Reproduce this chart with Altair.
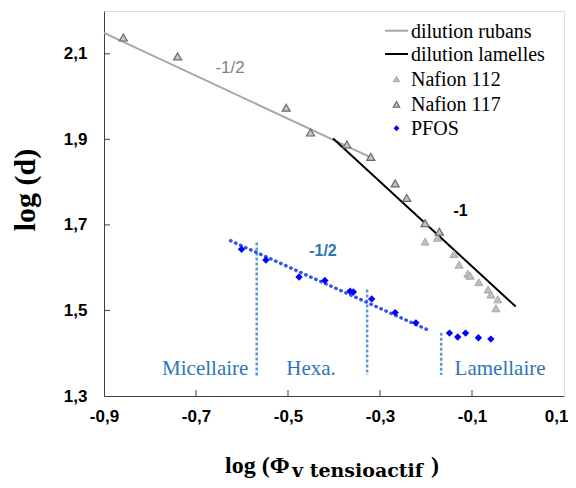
import altair as alt
import pandas as pd

# ---------------- data ----------------
nafion117_x = [-0.858, -0.740, -0.504, -0.451, -0.372, -0.320, -0.267, -0.242, -0.202, -0.171]
nafion117_y = [2.138, 2.094, 1.974, 1.916, 1.888, 1.859, 1.797, 1.763, 1.704, 1.684]

nafion112_x = [-0.202, -0.175, -0.139, -0.128, -0.109, -0.104, -0.085, -0.065, -0.059, -0.044, -0.048]
nafion112_y = [1.661, 1.670, 1.632, 1.607, 1.586, 1.581, 1.566, 1.549, 1.537, 1.526, 1.505]

pfos_x = [-0.601, -0.548, -0.476, -0.420, -0.365, -0.358, -0.318, -0.267, -0.222,
          -0.149, -0.131, -0.114, -0.086, -0.059]
pfos_y = [1.643, 1.618, 1.578, 1.570, 1.545, 1.543, 1.527, 1.495, 1.471,
          1.447, 1.438, 1.447, 1.436, 1.433]

rubans_x = [-0.90, -0.32]
rubans_y = [2.149, 1.858]
lamelles_x = [-0.402, -0.005]
lamelles_y = [1.902, 1.509]
pfos_fit_x = [-0.625, -0.191]
pfos_fit_y = [1.663, 1.452]

bound_x = [-0.568, -0.328, -0.167]
bound_top = [1.659, 1.549, 1.448]
bound_bottom = [1.343, 1.349, 1.349]

region_labels = ["Micellaire", "Hexa.", "Lamellaire"]
region_x = [-0.680, -0.450, -0.039]
region_y = [1.363, 1.363, 1.363]

x_ticks = [-0.9, -0.7, -0.5, -0.3, -0.1, 0.1]
y_ticks = [1.3, 1.5, 1.7, 1.9, 2.1]

legend_labels = ["dilution rubans", "dilution lamelles", "Nafion 112", "Nafion 117", "PFOS"]

# ---------------- layout ----------------
W, H = 460, 385
xs = alt.Scale(domain=[-0.9, 0.1], nice=False, zero=False)
ys = alt.Scale(domain=[1.3, 2.2], nice=False, zero=False)
label_expr = "replace(replace(format(datum.value, '.1f'), '.', ','), '\u2212', '-')"

SERIF = "Liberation Serif"
SANS = "Liberation Sans"
BLUE_TXT = "#2e75b6"

dummy = pd.DataFrame({"d": [0]})

df_117 = pd.DataFrame({"x": nafion117_x, "y": nafion117_y})
df_112 = pd.DataFrame({"x": nafion112_x, "y": nafion112_y})
df_pfos = pd.DataFrame({"x": pfos_x, "y": pfos_y})
df_rub = pd.DataFrame({"x": rubans_x, "y": rubans_y})
df_lam = pd.DataFrame({"x": lamelles_x, "y": lamelles_y})
df_fit = pd.DataFrame({"x": pfos_fit_x, "y": pfos_fit_y})
df_bound = pd.DataFrame({"x": bound_x, "y": bound_top, "y2": bound_bottom})
df_reg = pd.DataFrame({"label": region_labels, "x": region_x, "y": region_y})
df_xt = pd.DataFrame({"v": x_ticks[1:-1]})
df_yt = pd.DataFrame({"v": y_ticks[1:]})

X = lambda: alt.X("x:Q", scale=xs, axis=alt.Axis(
    values=x_ticks, labelExpr=label_expr, title=None,
    grid=False, ticks=False, tickSize=0, labelPadding=12,
    labelFont=SANS, labelFontWeight="bold", labelFontSize=17,
    labelColor="#000000", domainColor="#404040", labelFlush=False,
    labelAlign={"condition": {"test": "datum.value > 0.05", "value": "right"}, "value": "center"},
    labelOffset={"condition": {"test": "datum.value > 0.05", "value": 4}, "value": 0}))
Y = lambda: alt.Y("y:Q", scale=ys, axis=alt.Axis(
    values=y_ticks, labelExpr=label_expr, title=None,
    grid=False, ticks=False, tickSize=0, labelPadding=17,
    labelFont=SANS, labelFontWeight="bold", labelFontSize=17,
    labelColor="#000000", domainColor="#404040", labelFlush=False))

rub_line = alt.Chart(df_rub).mark_line(color="#a6a6a6", strokeWidth=2).encode(x=X(), y=Y())
lam_line = alt.Chart(df_lam).mark_line(color="#000000", strokeWidth=2).encode(x=X(), y=Y())
fit_line = alt.Chart(df_fit).mark_line(color="#3355ee", strokeWidth=3.4, strokeDash=[0.5, 5],
                                       strokeCap="round").encode(x=X(), y=Y())
bounds = alt.Chart(df_bound).mark_rule(color="#5b9bd5", strokeWidth=2.5, strokeDash=[3, 2]).encode(
    x=alt.X("x:Q", scale=xs), y=alt.Y("y:Q", scale=ys), y2="y2:Q")

pts_112 = alt.Chart(df_112).mark_point(shape="triangle-up", filled=True, size=65, fill="#bfbfbf",
                                       stroke="#a9a9a9", strokeWidth=1, opacity=1).encode(x=X(), y=Y())
pts_117 = alt.Chart(df_117).mark_point(shape="triangle-up", filled=True, size=65, fill="#c4c4c4",
                                       stroke="#6a6a6a", strokeWidth=1.2, opacity=1).encode(x=X(), y=Y())
pts_pfos = alt.Chart(df_pfos).mark_point(shape="diamond", filled=True, size=55, color="#0000ff",
                                         opacity=1).encode(x=X(), y=Y())

yticks = alt.Chart(df_yt).mark_rule(color="#404040", strokeWidth=1).encode(
    y=alt.Y("v:Q", scale=ys), x=alt.value(0), x2=alt.value(6))
xticks = alt.Chart(df_xt).mark_rule(color="#404040", strokeWidth=1).encode(
    x=alt.X("v:Q", scale=xs), y=alt.value(H), y2=alt.value(H - 6))

regions = alt.Chart(df_reg).mark_text(font=SERIF, fontSize=21, color=BLUE_TXT).encode(
    x=alt.X("x:Q", scale=xs), y=alt.Y("y:Q", scale=ys), text="label:N")

def txt(text, x, y, **kw):
    return alt.Chart(dummy).mark_text(text=text, **kw).encode(x=alt.value(x), y=alt.value(y))

slope_gray = alt.Chart(pd.DataFrame({"x": [-0.626], "y": [2.066], "t": ["-1/2"]})).mark_text(
    font=SANS, fontSize=17, color="#7f7f7f").encode(x=alt.X("x:Q", scale=xs), y=alt.Y("y:Q", scale=ys), text="t:N")
slope_blue = alt.Chart(pd.DataFrame({"x": [-0.424], "y": [1.638], "t": ["-1/2"]})).mark_text(
    font=SANS, fontSize=16, fontWeight="bold", color=BLUE_TXT).encode(x=alt.X("x:Q", scale=xs), y=alt.Y("y:Q", scale=ys), text="t:N")
slope_black = alt.Chart(pd.DataFrame({"x": [-0.125], "y": [1.733], "t": ["-1"]})).mark_text(
    font=SANS, fontSize=16, fontWeight="bold", color="#000000").encode(x=alt.X("x:Q", scale=xs), y=alt.Y("y:Q", scale=ys), text="t:N")

# legend (drawn by hand, inside the plot, top right)
LX0, LX1, LSYM, LTXT = 281, 304, 292.5, 307
rows = [19.7, 43, 68, 93.3, 117.3]
legend = [
    alt.Chart(dummy).mark_rule(color="#a6a6a6", strokeWidth=2).encode(x=alt.value(LX0), x2=alt.value(LX1), y=alt.value(rows[0])),
    alt.Chart(dummy).mark_rule(color="#000000", strokeWidth=2).encode(x=alt.value(LX0), x2=alt.value(LX1), y=alt.value(rows[1])),
    alt.Chart(dummy).mark_point(shape="triangle-up", filled=True, size=40, fill="#bfbfbf", stroke="#a9a9a9",
                                strokeWidth=1, opacity=1).encode(x=alt.value(LSYM), y=alt.value(rows[2])),
    alt.Chart(dummy).mark_point(shape="triangle-up", filled=True, size=40, fill="#c4c4c4", stroke="#6a6a6a",
                                strokeWidth=1.2, opacity=1).encode(x=alt.value(LSYM), y=alt.value(rows[3])),
    alt.Chart(dummy).mark_point(shape="diamond", filled=True, size=35, color="#0000ff",
                                opacity=1).encode(x=alt.value(LSYM), y=alt.value(rows[4])),
]
for lab, ry in zip(legend_labels, rows):
    legend.append(txt(lab, LTXT, ry + 1, font=SERIF, fontSize=20, align="left", baseline="middle", color="#000000"))

# axis titles
titles = [
    txt("log (d)", -78, 179, font=SERIF, fontSize=30, fontWeight="bold", angle=270,
        align="center", baseline="middle", color="#000000"),
    txt("log (\u03a6", 121, 462, font=SERIF, fontSize=24, fontWeight="bold", align="left",
        baseline="alphabetic", color="#000000"),
    txt("v tensioactif", 188, 466, font="DejaVu Serif", fontSize=19, fontWeight="bold", align="left",
        baseline="alphabetic", color="#000000"),
    txt(")", 327, 462, font=SERIF, fontSize=24, fontWeight="bold", align="left",
        baseline="alphabetic", color="#000000"),
]

chart = alt.layer(
    rub_line, lam_line, bounds, fit_line, pts_112, pts_117, pts_pfos,
    yticks, xticks, regions, slope_gray, slope_blue, slope_black,
    *legend, *titles
).properties(
    width=W, height=H,
    autosize=alt.AutoSizeParams(type="none"),
    padding={"left": 96, "top": 3, "right": 4, "bottom": 84},
).configure_view(stroke="#404040", strokeWidth=1).configure(background="#ffffff")

chart.save("out.html", embed_options={"renderer": "svg", "actions": False})
